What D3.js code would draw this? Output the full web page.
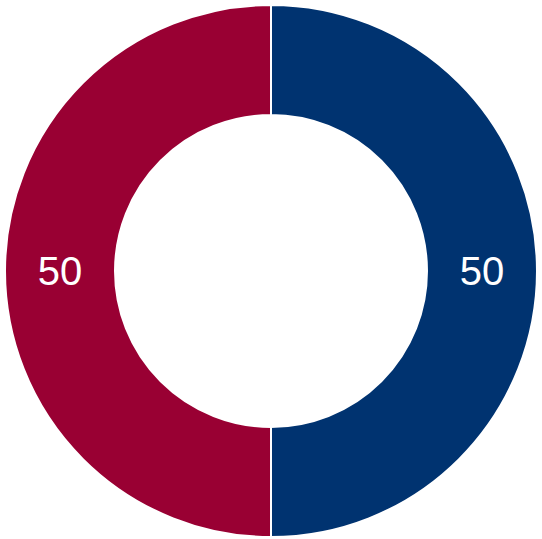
<!DOCTYPE html>
<html>
<head>
<meta charset="utf-8">
<script src="https://cdn.jsdelivr.net/npm/d3@7"></script>
<style>
  html, body { margin: 0; padding: 0; background: #fff; }
</style>
</head>
<body>
<script>
var width = 542
var height = 539

var categories = ['A', 'B']
var values = [50, 50]
var colors = ['#003370', '#990033']

var cx = 271
var cy = 271
var outerRadius = 266
var innerRadius = 156

var svg = d3.select('body').append('svg')
    .attr('width', width)
    .attr('height', height)

var g = svg.append('g').attr('transform', 'translate(' + cx + ',' + cy + ')')

var pie = d3.pie().sort(null).value(function (d, i) { return values[i] })
var arcs = pie(categories)

var arc = d3.arc().innerRadius(innerRadius).outerRadius(outerRadius)

g.selectAll('path')
    .data(arcs)
    .enter()
    .append('path')
    .attr('d', arc)
    .attr('fill', function (d, i) { return colors[i] })
    .attr('stroke', '#fff')
    .attr('stroke-width', 2)

var labelArc = d3.arc()
    .innerRadius((innerRadius + outerRadius) / 2)
    .outerRadius((innerRadius + outerRadius) / 2)

g.selectAll('text')
    .data(arcs)
    .enter()
    .append('text')
    .attr('transform', function (d) { return 'translate(' + labelArc.centroid(d) + ')' })
    .attr('text-anchor', 'middle')
    .attr('dy', '0.35em')
    .attr('fill', '#fff')
    .style('font-family', 'Liberation Sans, Arial, sans-serif')
    .style('font-size', '40px')
    .text(function (d, i) { return values[i] })
</script>
</body>
</html>
